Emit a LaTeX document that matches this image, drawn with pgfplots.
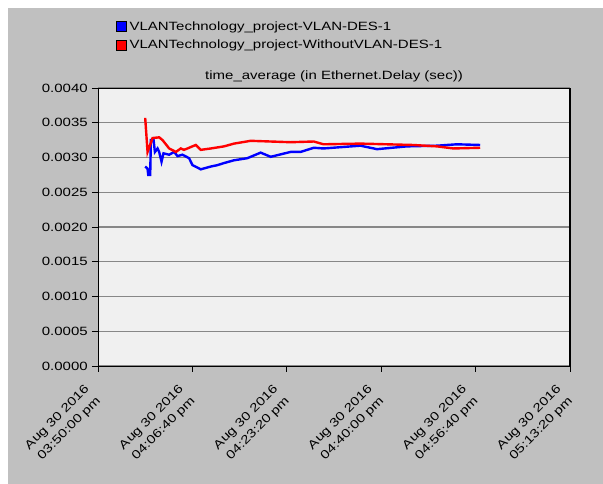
\documentclass[border=0pt]{standalone}
\usepackage{fontspec}
\setmainfont{Liberation Sans}[FakeStretch=1.25]
\usepackage{pgfplots}
\pgfplotsset{compat=1.18}
\definecolor{panelgrey}{RGB}{192,192,192}
\definecolor{plotbg}{RGB}{240,240,240}
\definecolor{gridgrey}{RGB}{135,135,135}
\begin{document}
\fontsize{9}{11}\selectfont
\begin{tikzpicture}
\useasboundingbox (0,0) rectangle (452.25pt,363pt);
\fill[white] (0,0) rectangle (452.25pt,363pt);
\fill[panelgrey] (6pt,0) rectangle (452.25pt,357pt);
\begin{axis}[
  at={(73.5pt,88.5pt)}, anchor=south west,
  scale only axis, width=354pt, height=208.5pt,
  xmin=0, xmax=5000, ymin=0, ymax=0.004,
  axis background/.style={fill=plotbg},
  axis line style={black, line width=0.6pt},
  xtick={0,1000,2000,3000,4000,5000},
  xticklabels={{Aug 30 2016\\03:50:00 pm},{Aug 30 2016\\04:06:40 pm},{Aug 30 2016\\04:23:20 pm},{Aug 30 2016\\04:40:00 pm},{Aug 30 2016\\04:56:40 pm},{Aug 30 2016\\05:13:20 pm}},
  xticklabel style={xshift=-3.5pt, yshift=-16pt, rotate=45, anchor=east, align=right, font=\fontsize{9}{12.2}\selectfont, inner sep=0pt},
  ytick={0,0.0005,0.001,0.0015,0.002,0.0025,0.003,0.0035,0.004},
  scaled y ticks=false,
  yticklabel style={/pgf/number format/fixed, /pgf/number format/fixed zerofill, /pgf/number format/precision=4, /pgf/number format/assume math mode=true, font=\fontsize{9}{11}\selectfont},
  tick align=outside, major tick length=4.5pt,
  tick style={black, line width=0.6pt},
  xtick pos=bottom, ytick pos=left,
  ymajorgrids, grid style={gridgrey, line width=1pt},
  title={time\_average (in Ethernet.Delay (sec))},
  title style={at={(0.5,1)}, anchor=base, yshift=0.5pt, font=\fontsize{9}{11}\selectfont},
  legend style={at={(0.038,1.25)}, anchor=north west, draw=none, fill=none, font=\fontsize{9}{11}\selectfont, row sep=2pt, inner sep=0pt},
  legend cell align=left,
  legend image code/.code={\filldraw[#1, draw=black, line width=0.5pt] (0pt,-3.75pt) rectangle (7.5pt,3.75pt);},
  after end axis/.code={\draw[black, line width=1.8pt] (rel axis cs:1,0) -- (rel axis cs:1,1);},
]
\addplot[blue, line width=1.8pt] coordinates {
(500,0.00287) (525,0.00284) (532,0.00275) (553,0.00275) (560,0.00325) (589,0.00325)
(603,0.00308) (631,0.00313) (648,0.00308) (673,0.00294) (694,0.00306) (754,0.00304)
(807,0.00308) (842,0.00302) (895,0.00304) (965,0.00299) (1001,0.00289) (1089,0.00283)
(1195,0.00287) (1265,0.00289) (1335,0.00292) (1441,0.00296) (1582,0.00299) (1723,0.00307)
(1829,0.00301) (2040,0.00308) (2146,0.00308) (2286,0.00314) (2389,0.00313) (2780,0.00317)
(2956,0.00312) (3273,0.00316) (3591,0.00317) (3802,0.00319) (4049,0.00318)
};
\addlegendentry{VLANTechnology\_project-VLAN-DES-1}
\addplot[red, line width=1.8pt] coordinates {
(500,0.00357) (525,0.00308) (578,0.00328) (648,0.00329) (684,0.00325) (754,0.00313)
(825,0.00308) (877,0.00313) (910,0.00311) (948,0.00313) (1000,0.00316) (1036,0.00318) (1089,0.00311) (1195,0.00313)
(1335,0.00316) (1441,0.00320) (1617,0.00324) (1829,0.00323) (2040,0.00322) (2286,0.00323)
(2389,0.00319) (2780,0.00320) (3340,0.00318) (3591,0.00316) (3766,0.00313) (4049,0.00314)
};
\addlegendentry{VLANTechnology\_project-WithoutVLAN-DES-1}
\end{axis}
\end{tikzpicture}
\end{document}
